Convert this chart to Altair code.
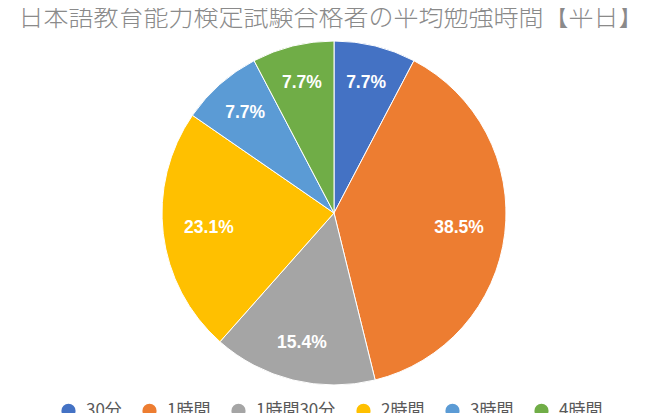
import math
import altair as alt
import pandas as pd

categories = ["30分", "1時間", "1時間30分", "2時間", "3時間", "4時間"]
counts = [1, 5, 2, 3, 1, 1]
colors = ["#4472C4", "#ED7D31", "#A5A5A5", "#FFC000", "#5B9BD5", "#70AD47"]
title_text = "日本語教育能力検定試験合格者の平均勉強時間【平日】"

df = pd.DataFrame({"cat": categories, "n": counts, "idx": list(range(len(categories)))})
TOTAL = sum(counts)

CX, CY = 326, 205

theta_scale = alt.Scale(domain=[0, TOTAL], range=[0, 2 * math.pi])

base = (
    alt.Chart(df)
    .transform_window(cum="sum(n)", sort=[alt.SortField("idx", order="ascending")])
    .transform_calculate(
        start="datum.cum - datum.n",
        mid="datum.cum - datum.n / 2",
        pct=f"datum.n / {TOTAL}",
    )
)

arc = base.mark_arc(radius=172, stroke="white", strokeWidth=1).encode(
    theta=alt.Theta("start:Q", scale=theta_scale, stack=None),
    theta2="cum:Q",
    color=alt.Color(
        "cat:N",
        scale=alt.Scale(domain=categories, range=colors),
        legend=alt.Legend(
            title=None,
            orient="none",
            legendX=52,
            legendY=394,
            direction="horizontal",
            columns=6,
            columnPadding=19,
            symbolType="circle",
            symbolSize=200,
            symbolStrokeWidth=0,
            labelFontSize=17,
            labelFont="Noto Sans CJK JP",
            labelColor="#595959",
            labelOffset=9,
        ),
    ),
    x=alt.value(CX),
    y=alt.value(CY),
)

label_style = dict(
    color="white",
    fontSize=17.5,
    fontWeight="bold",
    font="Liberation Sans",
    align="center",
    baseline="middle",
)

labels_big = (
    base.transform_filter("datum.pct >= 0.2")
    .mark_text(radius=126, **label_style)
    .encode(
        theta=alt.Theta("mid:Q", scale=theta_scale, stack=None),
        text=alt.Text("pct:Q", format=".1%"),
        x=alt.value(CX),
        y=alt.value(CY),
    )
)
labels_small = (
    base.transform_filter("datum.pct < 0.2")
    .mark_text(radius=134, **label_style)
    .encode(
        theta=alt.Theta("mid:Q", scale=theta_scale, stack=None),
        text=alt.Text("pct:Q", format=".1%"),
        x=alt.value(CX),
        y=alt.value(CY),
    )
)

title = (
    alt.Chart(pd.DataFrame({"t": [title_text]}))
    .mark_text(
        fontSize=25,
        font="Noto Sans CJK JP",
        fontWeight=300,
        color="#8A8A8A",
        align="center",
        baseline="alphabetic",
    )
    .encode(text="t:N", x=alt.value(323), y=alt.value(18))
)

chart = (
    alt.layer(arc, labels_big, labels_small, title)
    .properties(width=650, height=405, padding=0, autosize="none")
    .configure_view(stroke=None)
)

chart.save("out.html", embed_options={"renderer": "svg", "actions": False})
